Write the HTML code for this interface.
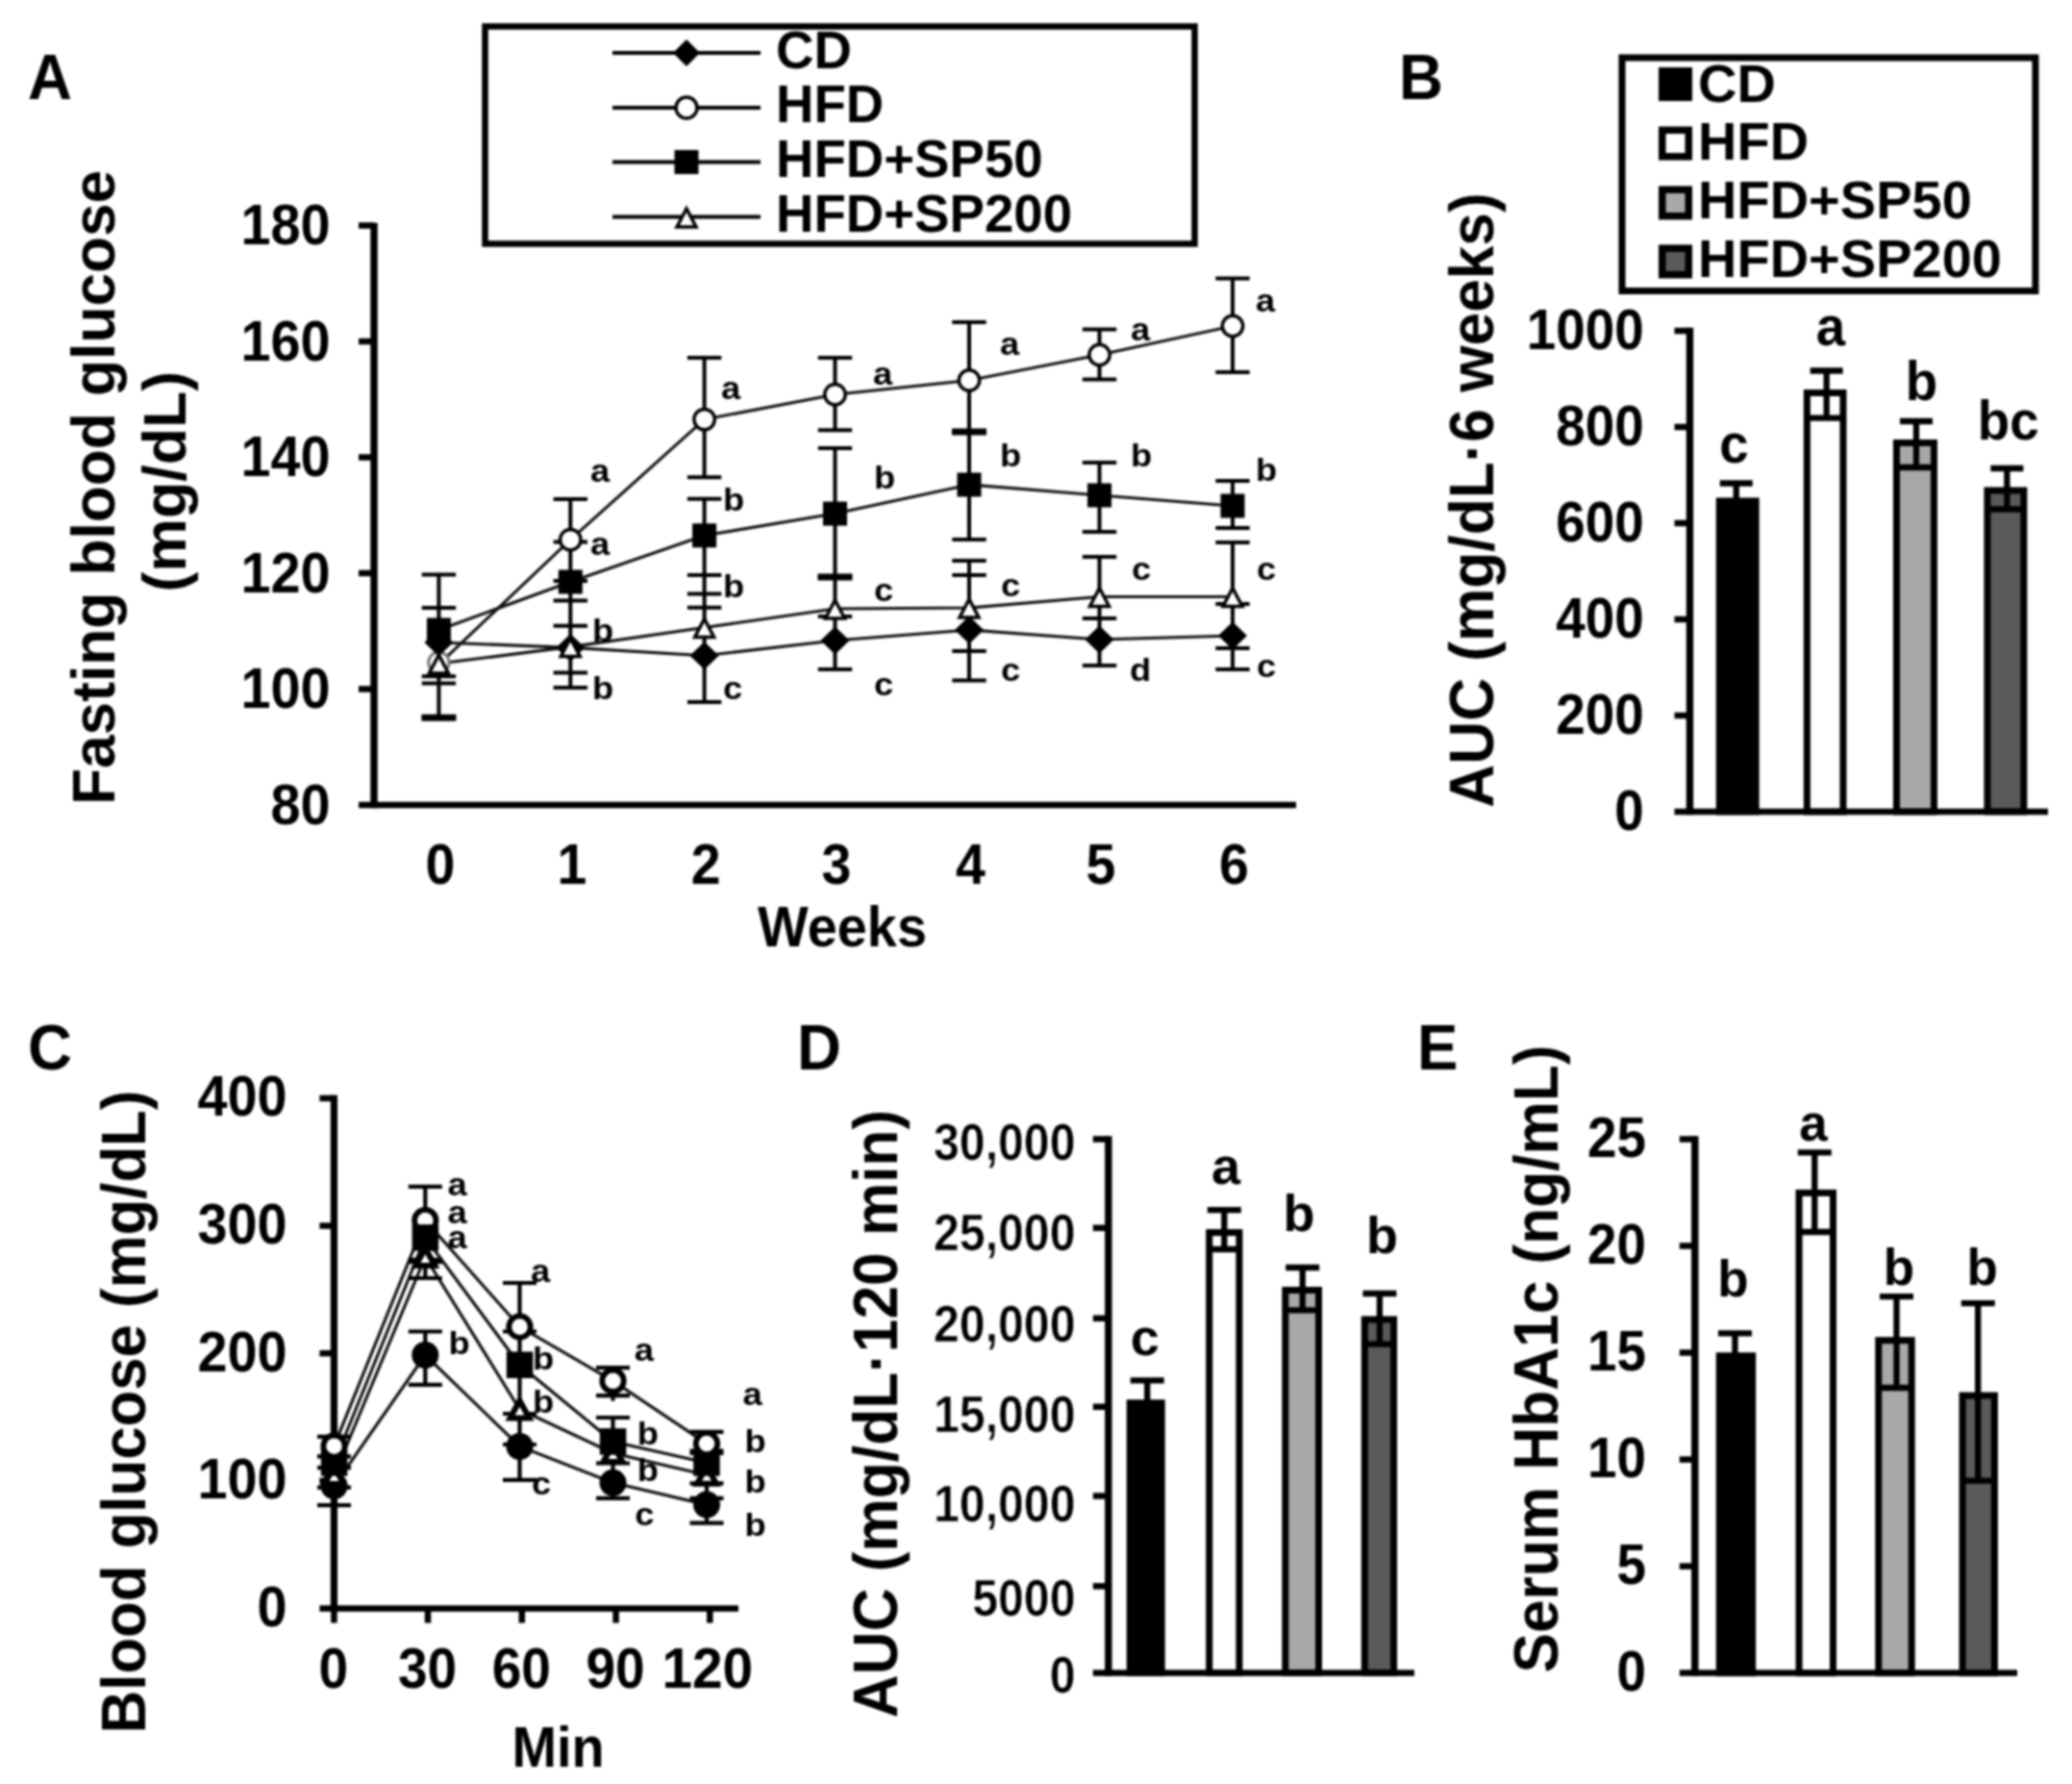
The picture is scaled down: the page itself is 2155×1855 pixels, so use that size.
<!DOCTYPE html>
<html lang="en">
<head>
<meta charset="utf-8">
<title>Figure</title>
<style>
html,body{margin:0;padding:0;background:#fff;}
body{width:2155px;height:1855px;overflow:hidden;}
svg{display:block;font-family:"Liberation Sans", sans-serif;fill:#000;}
</style>
</head>
<body>
<svg width="2155" height="1855" viewBox="0 0 2155 1855">
<defs><filter id="soft" x="0" y="0" width="2155" height="1855" filterUnits="userSpaceOnUse" color-interpolation-filters="sRGB"><feGaussianBlur stdDeviation="0.8"/></filter></defs>
<g filter="url(#soft)">
<rect x="0" y="0" width="2155" height="1855" fill="#fff"/>
<text transform="translate(29.0 102.5) scale(0.95 1)" font-size="67" font-weight="bold" text-anchor="start" >A</text>
<text transform="translate(118.5 506.9) rotate(-90) scale(0.98 1)" font-size="63.5" font-weight="bold" text-anchor="middle" >Fasting blood glucose</text>
<text transform="translate(192.5 500.7) rotate(-90) scale(0.987 1)" font-size="63.5" font-weight="bold" text-anchor="middle" >(mg/dL)</text>
<line x1="389.0" y1="231.8" x2="389.0" y2="840.2" stroke="#000" stroke-width="7.4" stroke-linecap="butt"/>
<line x1="373.0" y1="837.0" x2="1348.0" y2="837.0" stroke="#000" stroke-width="6.5" stroke-linecap="butt"/>
<line x1="373.0" y1="716.5" x2="389.0" y2="716.5" stroke="#000" stroke-width="6.5" stroke-linecap="butt"/>
<line x1="373.0" y1="596.0" x2="389.0" y2="596.0" stroke="#000" stroke-width="6.5" stroke-linecap="butt"/>
<line x1="373.0" y1="475.5" x2="389.0" y2="475.5" stroke="#000" stroke-width="6.5" stroke-linecap="butt"/>
<line x1="373.0" y1="355.0" x2="389.0" y2="355.0" stroke="#000" stroke-width="6.5" stroke-linecap="butt"/>
<line x1="373.0" y1="234.5" x2="389.0" y2="234.5" stroke="#000" stroke-width="6.5" stroke-linecap="butt"/>
<text transform="translate(343.5 856.8) scale(0.93 1)" font-size="60" font-weight="bold" text-anchor="end" >80</text>
<text transform="translate(343.5 736.3) scale(0.93 1)" font-size="60" font-weight="bold" text-anchor="end" >100</text>
<text transform="translate(343.5 615.8) scale(0.93 1)" font-size="60" font-weight="bold" text-anchor="end" >120</text>
<text transform="translate(343.5 495.3) scale(0.93 1)" font-size="60" font-weight="bold" text-anchor="end" >140</text>
<text transform="translate(343.5 374.8) scale(0.93 1)" font-size="60" font-weight="bold" text-anchor="end" >160</text>
<text transform="translate(343.5 254.3) scale(0.93 1)" font-size="60" font-weight="bold" text-anchor="end" >180</text>
<text transform="translate(457.9 919.3) scale(0.94 1)" font-size="59" font-weight="bold" text-anchor="middle" >0</text>
<text transform="translate(594.8 919.3) scale(0.94 1)" font-size="59" font-weight="bold" text-anchor="middle" >1</text>
<text transform="translate(734.1 919.3) scale(0.94 1)" font-size="59" font-weight="bold" text-anchor="middle" >2</text>
<text transform="translate(870.0 919.3) scale(0.94 1)" font-size="59" font-weight="bold" text-anchor="middle" >3</text>
<text transform="translate(1009.5 919.3) scale(0.94 1)" font-size="59" font-weight="bold" text-anchor="middle" >4</text>
<text transform="translate(1145.0 919.3) scale(0.94 1)" font-size="59" font-weight="bold" text-anchor="middle" >5</text>
<text transform="translate(1283.5 919.3) scale(0.94 1)" font-size="59" font-weight="bold" text-anchor="middle" >6</text>
<text transform="translate(876.0 983.8) scale(0.955 1)" font-size="58.5" font-weight="bold" text-anchor="middle" >Weeks</text>
<rect x="504.5" y="27.5" width="738.0" height="226.0" fill="#fff" stroke="#000" stroke-width="6.5"/>
<line x1="637.0" y1="55.0" x2="791.0" y2="55.0" stroke="#000" stroke-width="4.2" stroke-linecap="butt"/>
<line x1="637.0" y1="112.0" x2="791.0" y2="112.0" stroke="#000" stroke-width="4.2" stroke-linecap="butt"/>
<line x1="637.0" y1="168.5" x2="791.0" y2="168.5" stroke="#000" stroke-width="4.2" stroke-linecap="butt"/>
<line x1="637.0" y1="225.5" x2="791.0" y2="225.5" stroke="#000" stroke-width="4.2" stroke-linecap="butt"/>
<polygon points="700.0,55.0 714.0,41.0 728.0,55.0 714.0,69.0" fill="#000"/>
<circle cx="714.0" cy="112.0" r="11" fill="#fff" stroke="#000" stroke-width="3.5"/>
<rect x="701.5" y="156.0" width="25.0" height="25.0" fill="#000"/>
<polygon points="704.0,236.0 714.0,217.0 724.0,236.0" fill="#fff" stroke="#000" stroke-width="3.5" stroke-linejoin="miter"/>
<text transform="translate(807.0 71.0) scale(0.984 1)" font-size="55.5" font-weight="bold" text-anchor="start" >CD</text>
<text transform="translate(807.0 126.5) scale(0.984 1)" font-size="55.5" font-weight="bold" text-anchor="start" >HFD</text>
<text transform="translate(807.0 184.0) scale(0.984 1)" font-size="55.5" font-weight="bold" text-anchor="start" >HFD+SP50</text>
<text transform="translate(807.0 241.0) scale(0.984 1)" font-size="55.5" font-weight="bold" text-anchor="start" >HFD+SP200</text>
<polyline points="456.4,668.0 593.3,673.4 732.6,681.7 868.5,666.0 1008.0,655.0 1143.5,665.0 1282.0,661.0" fill="none" stroke="#111" stroke-width="3.1"/>
<polyline points="456.4,690.8 593.3,561.2 732.6,436.1 868.5,410.2 1008.0,395.5 1143.5,369.0 1282.0,339.0" fill="none" stroke="#111" stroke-width="3.1"/>
<polyline points="456.4,655.0 593.3,605.0 732.6,556.8 868.5,534.1 1008.0,504.0 1143.5,515.0 1282.0,526.0" fill="none" stroke="#111" stroke-width="3.1"/>
<polyline points="456.4,690.0 593.3,672.6 732.6,652.5 868.5,633.0 1008.0,632.0 1143.5,620.5 1282.0,620.5" fill="none" stroke="#111" stroke-width="3.1"/>
<line x1="456.4" y1="597.6" x2="456.4" y2="746.3" stroke="#000" stroke-width="4.0" stroke-linecap="butt"/>
<line x1="438.7" y1="597.6" x2="474.1" y2="597.6" stroke="#000" stroke-width="4.0" stroke-linecap="butt"/>
<line x1="438.7" y1="632.0" x2="474.1" y2="632.0" stroke="#000" stroke-width="4.0" stroke-linecap="butt"/>
<line x1="438.7" y1="703.3" x2="474.1" y2="703.3" stroke="#000" stroke-width="4.0" stroke-linecap="butt"/>
<line x1="438.7" y1="710.6" x2="474.1" y2="710.6" stroke="#000" stroke-width="4.0" stroke-linecap="butt"/>
<line x1="438.4" y1="746.3" x2="474.4" y2="746.3" stroke="#000" stroke-width="7" stroke-linecap="butt"/>
<line x1="593.3" y1="519.0" x2="593.3" y2="715.0" stroke="#000" stroke-width="4.0" stroke-linecap="butt"/>
<line x1="575.6" y1="519.0" x2="611.0" y2="519.0" stroke="#000" stroke-width="4.0" stroke-linecap="butt"/>
<line x1="575.6" y1="563.4" x2="611.0" y2="563.4" stroke="#000" stroke-width="4.0" stroke-linecap="butt"/>
<line x1="575.6" y1="604.0" x2="611.0" y2="604.0" stroke="#000" stroke-width="4.0" stroke-linecap="butt"/>
<line x1="575.6" y1="624.6" x2="611.0" y2="624.6" stroke="#000" stroke-width="4.0" stroke-linecap="butt"/>
<line x1="575.6" y1="650.8" x2="611.0" y2="650.8" stroke="#000" stroke-width="4.0" stroke-linecap="butt"/>
<line x1="575.6" y1="699.6" x2="611.0" y2="699.6" stroke="#000" stroke-width="4.0" stroke-linecap="butt"/>
<line x1="575.6" y1="715.0" x2="611.0" y2="715.0" stroke="#000" stroke-width="4.0" stroke-linecap="butt"/>
<line x1="732.6" y1="371.9" x2="732.6" y2="496.3" stroke="#000" stroke-width="4.0" stroke-linecap="butt"/>
<line x1="732.6" y1="518.7" x2="732.6" y2="730.0" stroke="#000" stroke-width="4.0" stroke-linecap="butt"/>
<line x1="714.9" y1="371.9" x2="750.3" y2="371.9" stroke="#000" stroke-width="4.0" stroke-linecap="butt"/>
<line x1="714.9" y1="496.3" x2="750.3" y2="496.3" stroke="#000" stroke-width="4.0" stroke-linecap="butt"/>
<line x1="714.9" y1="518.7" x2="750.3" y2="518.7" stroke="#000" stroke-width="4.0" stroke-linecap="butt"/>
<line x1="714.9" y1="598.0" x2="750.3" y2="598.0" stroke="#000" stroke-width="4.0" stroke-linecap="butt"/>
<line x1="714.9" y1="617.4" x2="750.3" y2="617.4" stroke="#000" stroke-width="4.0" stroke-linecap="butt"/>
<line x1="714.9" y1="631.8" x2="750.3" y2="631.8" stroke="#000" stroke-width="4.0" stroke-linecap="butt"/>
<line x1="714.9" y1="730.0" x2="750.3" y2="730.0" stroke="#000" stroke-width="4.0" stroke-linecap="butt"/>
<line x1="868.5" y1="371.9" x2="868.5" y2="447.2" stroke="#000" stroke-width="4.0" stroke-linecap="butt"/>
<line x1="868.5" y1="466.0" x2="868.5" y2="696.0" stroke="#000" stroke-width="4.0" stroke-linecap="butt"/>
<line x1="850.8" y1="371.9" x2="886.2" y2="371.9" stroke="#000" stroke-width="4.0" stroke-linecap="butt"/>
<line x1="850.8" y1="447.2" x2="886.2" y2="447.2" stroke="#000" stroke-width="4.0" stroke-linecap="butt"/>
<line x1="850.8" y1="466.0" x2="886.2" y2="466.0" stroke="#000" stroke-width="4.0" stroke-linecap="butt"/>
<line x1="850.8" y1="641.0" x2="886.2" y2="641.0" stroke="#000" stroke-width="4.0" stroke-linecap="butt"/>
<line x1="850.8" y1="696.0" x2="886.2" y2="696.0" stroke="#000" stroke-width="4.0" stroke-linecap="butt"/>
<line x1="850.5" y1="600.0" x2="886.5" y2="600.0" stroke="#000" stroke-width="7" stroke-linecap="butt"/>
<line x1="1008.0" y1="335.0" x2="1008.0" y2="561.0" stroke="#000" stroke-width="4.0" stroke-linecap="butt"/>
<line x1="1008.0" y1="583.0" x2="1008.0" y2="707.5" stroke="#000" stroke-width="4.0" stroke-linecap="butt"/>
<line x1="990.3" y1="335.0" x2="1025.7" y2="335.0" stroke="#000" stroke-width="4.0" stroke-linecap="butt"/>
<line x1="990.3" y1="561.0" x2="1025.7" y2="561.0" stroke="#000" stroke-width="4.0" stroke-linecap="butt"/>
<line x1="990.3" y1="583.0" x2="1025.7" y2="583.0" stroke="#000" stroke-width="4.0" stroke-linecap="butt"/>
<line x1="990.3" y1="598.0" x2="1025.7" y2="598.0" stroke="#000" stroke-width="4.0" stroke-linecap="butt"/>
<line x1="990.3" y1="677.0" x2="1025.7" y2="677.0" stroke="#000" stroke-width="4.0" stroke-linecap="butt"/>
<line x1="990.3" y1="707.5" x2="1025.7" y2="707.5" stroke="#000" stroke-width="4.0" stroke-linecap="butt"/>
<line x1="990.0" y1="449.0" x2="1026.0" y2="449.0" stroke="#000" stroke-width="7" stroke-linecap="butt"/>
<line x1="1143.5" y1="342.5" x2="1143.5" y2="394.5" stroke="#000" stroke-width="4.0" stroke-linecap="butt"/>
<line x1="1143.5" y1="481.0" x2="1143.5" y2="553.0" stroke="#000" stroke-width="4.0" stroke-linecap="butt"/>
<line x1="1143.5" y1="579.0" x2="1143.5" y2="692.0" stroke="#000" stroke-width="4.0" stroke-linecap="butt"/>
<line x1="1125.8" y1="342.5" x2="1161.2" y2="342.5" stroke="#000" stroke-width="4.0" stroke-linecap="butt"/>
<line x1="1125.8" y1="394.5" x2="1161.2" y2="394.5" stroke="#000" stroke-width="4.0" stroke-linecap="butt"/>
<line x1="1125.8" y1="481.0" x2="1161.2" y2="481.0" stroke="#000" stroke-width="4.0" stroke-linecap="butt"/>
<line x1="1125.8" y1="553.0" x2="1161.2" y2="553.0" stroke="#000" stroke-width="4.0" stroke-linecap="butt"/>
<line x1="1125.8" y1="579.0" x2="1161.2" y2="579.0" stroke="#000" stroke-width="4.0" stroke-linecap="butt"/>
<line x1="1125.8" y1="643.0" x2="1161.2" y2="643.0" stroke="#000" stroke-width="4.0" stroke-linecap="butt"/>
<line x1="1125.8" y1="692.0" x2="1161.2" y2="692.0" stroke="#000" stroke-width="4.0" stroke-linecap="butt"/>
<line x1="1282.0" y1="289.5" x2="1282.0" y2="387.0" stroke="#000" stroke-width="4.0" stroke-linecap="butt"/>
<line x1="1282.0" y1="500.0" x2="1282.0" y2="549.0" stroke="#000" stroke-width="4.0" stroke-linecap="butt"/>
<line x1="1282.0" y1="564.0" x2="1282.0" y2="696.0" stroke="#000" stroke-width="4.0" stroke-linecap="butt"/>
<line x1="1264.3" y1="289.5" x2="1299.7" y2="289.5" stroke="#000" stroke-width="4.0" stroke-linecap="butt"/>
<line x1="1264.3" y1="387.0" x2="1299.7" y2="387.0" stroke="#000" stroke-width="4.0" stroke-linecap="butt"/>
<line x1="1264.3" y1="500.0" x2="1299.7" y2="500.0" stroke="#000" stroke-width="4.0" stroke-linecap="butt"/>
<line x1="1264.3" y1="549.0" x2="1299.7" y2="549.0" stroke="#000" stroke-width="4.0" stroke-linecap="butt"/>
<line x1="1264.3" y1="564.0" x2="1299.7" y2="564.0" stroke="#000" stroke-width="4.0" stroke-linecap="butt"/>
<line x1="1264.3" y1="628.0" x2="1299.7" y2="628.0" stroke="#000" stroke-width="4.0" stroke-linecap="butt"/>
<line x1="1264.3" y1="674.0" x2="1299.7" y2="674.0" stroke="#000" stroke-width="4.0" stroke-linecap="butt"/>
<line x1="1264.3" y1="696.0" x2="1299.7" y2="696.0" stroke="#000" stroke-width="4.0" stroke-linecap="butt"/>
<circle cx="456.4" cy="688.8" r="10.7" fill="#fff" stroke="#777" stroke-width="3"/>
<polygon points="441.4,668.0 456.4,653.5 471.4,668.0 456.4,682.5" fill="#000"/>
<polygon points="446.4,700.0 456.4,681.0 466.4,700.0" fill="#fff" stroke="#000" stroke-width="3.5" stroke-linejoin="miter"/>
<rect x="443.9" y="642.5" width="25.0" height="25.0" fill="#000"/>
<polygon points="578.3,673.4 593.3,658.9 608.3,673.4 593.3,687.9" fill="#000"/>
<polygon points="583.3,682.6 593.3,663.6 603.3,682.6" fill="#fff" stroke="#000" stroke-width="3.5" stroke-linejoin="miter"/>
<rect x="580.8" y="592.5" width="25.0" height="25.0" fill="#000"/>
<circle cx="593.3" cy="561.2" r="10.7" fill="#fff" stroke="#000" stroke-width="3.5"/>
<polygon points="717.6,681.7 732.6,667.2 747.6,681.7 732.6,696.2" fill="#000"/>
<polygon points="722.6,662.5 732.6,643.5 742.6,662.5" fill="#fff" stroke="#000" stroke-width="3.5" stroke-linejoin="miter"/>
<rect x="720.1" y="544.3" width="25.0" height="25.0" fill="#000"/>
<circle cx="732.6" cy="436.1" r="10.7" fill="#fff" stroke="#000" stroke-width="3.5"/>
<polygon points="853.5,666.0 868.5,651.5 883.5,666.0 868.5,680.5" fill="#000"/>
<polygon points="858.5,643.0 868.5,624.0 878.5,643.0" fill="#fff" stroke="#000" stroke-width="3.5" stroke-linejoin="miter"/>
<rect x="856.0" y="521.6" width="25.0" height="25.0" fill="#000"/>
<circle cx="868.5" cy="410.2" r="10.7" fill="#fff" stroke="#000" stroke-width="3.5"/>
<polygon points="993.0,655.0 1008.0,640.5 1023.0,655.0 1008.0,669.5" fill="#000"/>
<polygon points="998.0,642.0 1008.0,623.0 1018.0,642.0" fill="#fff" stroke="#000" stroke-width="3.5" stroke-linejoin="miter"/>
<rect x="995.5" y="491.5" width="25.0" height="25.0" fill="#000"/>
<circle cx="1008.0" cy="395.5" r="10.7" fill="#fff" stroke="#000" stroke-width="3.5"/>
<polygon points="1128.5,665.0 1143.5,650.5 1158.5,665.0 1143.5,679.5" fill="#000"/>
<polygon points="1133.5,630.5 1143.5,611.5 1153.5,630.5" fill="#fff" stroke="#000" stroke-width="3.5" stroke-linejoin="miter"/>
<rect x="1131.0" y="502.5" width="25.0" height="25.0" fill="#000"/>
<circle cx="1143.5" cy="369.0" r="10.7" fill="#fff" stroke="#000" stroke-width="3.5"/>
<polygon points="1267.0,661.0 1282.0,646.5 1297.0,661.0 1282.0,675.5" fill="#000"/>
<polygon points="1272.0,630.5 1282.0,611.5 1292.0,630.5" fill="#fff" stroke="#000" stroke-width="3.5" stroke-linejoin="miter"/>
<rect x="1269.5" y="513.5" width="25.0" height="25.0" fill="#000"/>
<circle cx="1282.0" cy="339.0" r="10.7" fill="#fff" stroke="#000" stroke-width="3.5"/>
<text transform="translate(614.0 501.0) scale(1.1 1)" font-size="33" font-weight="bold" text-anchor="start" >a</text>
<text transform="translate(614.0 577.0) scale(1.1 1)" font-size="33" font-weight="bold" text-anchor="start" >a</text>
<text transform="translate(616.0 667.0) scale(1.1 1)" font-size="33" font-weight="bold" text-anchor="start" >b</text>
<text transform="translate(616.0 727.0) scale(1.1 1)" font-size="33" font-weight="bold" text-anchor="start" >b</text>
<text transform="translate(750.0 414.5) scale(1.1 1)" font-size="33" font-weight="bold" text-anchor="start" >a</text>
<text transform="translate(752.0 531.0) scale(1.1 1)" font-size="33" font-weight="bold" text-anchor="start" >b</text>
<text transform="translate(752.0 621.0) scale(1.1 1)" font-size="33" font-weight="bold" text-anchor="start" >b</text>
<text transform="translate(752.0 727.0) scale(1.1 1)" font-size="33" font-weight="bold" text-anchor="start" >c</text>
<text transform="translate(908.0 400.0) scale(1.1 1)" font-size="33" font-weight="bold" text-anchor="start" >a</text>
<text transform="translate(909.0 508.0) scale(1.1 1)" font-size="33" font-weight="bold" text-anchor="start" >b</text>
<text transform="translate(909.0 625.0) scale(1.1 1)" font-size="33" font-weight="bold" text-anchor="start" >c</text>
<text transform="translate(909.0 722.5) scale(1.1 1)" font-size="33" font-weight="bold" text-anchor="start" >c</text>
<text transform="translate(1040.0 369.0) scale(1.1 1)" font-size="33" font-weight="bold" text-anchor="start" >a</text>
<text transform="translate(1040.0 485.0) scale(1.1 1)" font-size="33" font-weight="bold" text-anchor="start" >b</text>
<text transform="translate(1041.0 620.0) scale(1.1 1)" font-size="33" font-weight="bold" text-anchor="start" >c</text>
<text transform="translate(1041.0 708.0) scale(1.1 1)" font-size="33" font-weight="bold" text-anchor="start" >c</text>
<text transform="translate(1176.0 354.0) scale(1.1 1)" font-size="33" font-weight="bold" text-anchor="start" >a</text>
<text transform="translate(1176.0 485.0) scale(1.1 1)" font-size="33" font-weight="bold" text-anchor="start" >b</text>
<text transform="translate(1177.0 602.5) scale(1.1 1)" font-size="33" font-weight="bold" text-anchor="start" >c</text>
<text transform="translate(1175.0 708.0) scale(1.1 1)" font-size="33" font-weight="bold" text-anchor="start" >d</text>
<text transform="translate(1306.0 324.0) scale(1.1 1)" font-size="33" font-weight="bold" text-anchor="start" >a</text>
<text transform="translate(1306.0 500.0) scale(1.1 1)" font-size="33" font-weight="bold" text-anchor="start" >b</text>
<text transform="translate(1307.0 602.5) scale(1.1 1)" font-size="33" font-weight="bold" text-anchor="start" >c</text>
<text transform="translate(1307.0 704.0) scale(1.1 1)" font-size="33" font-weight="bold" text-anchor="start" >c</text>
<text transform="translate(1455.0 102.5) scale(0.95 1)" font-size="67" font-weight="bold" text-anchor="start" >B</text>
<text transform="translate(1553.0 520.0) rotate(-90) scale(0.957 1)" font-size="65" font-weight="bold" text-anchor="middle" >AUC (mg/dL·6 weeks)</text>
<rect x="1788.3" y="521.0" width="37.9" height="323.0" fill="#000" stroke="#000" stroke-width="7"/>
<line x1="1805.8" y1="502.5" x2="1805.8" y2="519.5" stroke="#000" stroke-width="6.3" stroke-linecap="butt"/>
<line x1="1788.8" y1="502.5" x2="1822.8" y2="502.5" stroke="#000" stroke-width="6.3" stroke-linecap="butt"/>
<rect x="1879.4" y="408.5" width="37.6" height="435.5" fill="#fff" stroke="#000" stroke-width="7"/>
<line x1="1899.7" y1="385.5" x2="1899.7" y2="434.6" stroke="#000" stroke-width="6.3" stroke-linecap="butt"/>
<line x1="1877.9" y1="434.6" x2="1918.5" y2="434.6" stroke="#000" stroke-width="6.3" stroke-linecap="butt"/>
<line x1="1882.7" y1="385.5" x2="1916.7" y2="385.5" stroke="#000" stroke-width="6.3" stroke-linecap="butt"/>
<rect x="1972.5" y="460.5" width="39.0" height="383.5" fill="#a8a8a8" stroke="#000" stroke-width="7"/>
<line x1="1993.0" y1="438.0" x2="1993.0" y2="486.0" stroke="#000" stroke-width="6.3" stroke-linecap="butt"/>
<line x1="1971.0" y1="486.0" x2="2013.0" y2="486.0" stroke="#000" stroke-width="6.3" stroke-linecap="butt"/>
<line x1="1976.0" y1="438.0" x2="2010.0" y2="438.0" stroke="#000" stroke-width="6.3" stroke-linecap="butt"/>
<rect x="2067.0" y="510.0" width="37.9" height="334.0" fill="#5a5a5a" stroke="#000" stroke-width="7"/>
<line x1="2087.4" y1="487.0" x2="2087.4" y2="529.5" stroke="#000" stroke-width="6.3" stroke-linecap="butt"/>
<line x1="2065.5" y1="529.5" x2="2106.4" y2="529.5" stroke="#000" stroke-width="6.3" stroke-linecap="butt"/>
<line x1="2070.4" y1="487.0" x2="2104.4" y2="487.0" stroke="#000" stroke-width="6.3" stroke-linecap="butt"/>
<line x1="1757.5" y1="340.8" x2="1757.5" y2="847.2" stroke="#000" stroke-width="7.4" stroke-linecap="butt"/>
<line x1="1741.5" y1="844.0" x2="2130.0" y2="844.0" stroke="#000" stroke-width="6.5" stroke-linecap="butt"/>
<line x1="1741.5" y1="744.0" x2="1757.5" y2="744.0" stroke="#000" stroke-width="6.5" stroke-linecap="butt"/>
<line x1="1741.5" y1="644.0" x2="1757.5" y2="644.0" stroke="#000" stroke-width="6.5" stroke-linecap="butt"/>
<line x1="1741.5" y1="544.0" x2="1757.5" y2="544.0" stroke="#000" stroke-width="6.5" stroke-linecap="butt"/>
<line x1="1741.5" y1="444.0" x2="1757.5" y2="444.0" stroke="#000" stroke-width="6.5" stroke-linecap="butt"/>
<line x1="1741.5" y1="344.0" x2="1757.5" y2="344.0" stroke="#000" stroke-width="6.5" stroke-linecap="butt"/>
<text transform="translate(1709.8 862.5) scale(0.93 1)" font-size="59" font-weight="bold" text-anchor="end" >0</text>
<text transform="translate(1709.8 762.5) scale(0.93 1)" font-size="59" font-weight="bold" text-anchor="end" >200</text>
<text transform="translate(1709.8 662.5) scale(0.93 1)" font-size="59" font-weight="bold" text-anchor="end" >400</text>
<text transform="translate(1709.8 562.5) scale(0.93 1)" font-size="59" font-weight="bold" text-anchor="end" >600</text>
<text transform="translate(1709.8 462.5) scale(0.93 1)" font-size="59" font-weight="bold" text-anchor="end" >800</text>
<text transform="translate(1709.8 362.5) scale(0.93 1)" font-size="59" font-weight="bold" text-anchor="end" >1000</text>
<rect x="1687.0" y="60.0" width="430.0" height="242.5" fill="#fff" stroke="#000" stroke-width="7"/>
<rect x="1728.8" y="73.8" width="27.5" height="27.5" fill="#000" stroke="#000" stroke-width="7.5"/>
<rect x="1728.8" y="135.3" width="27.5" height="27.5" fill="#fff" stroke="#000" stroke-width="7.5"/>
<rect x="1728.8" y="197.2" width="27.5" height="27.5" fill="#a8a8a8" stroke="#000" stroke-width="7.5"/>
<rect x="1728.8" y="258.2" width="27.5" height="27.5" fill="#5a5a5a" stroke="#000" stroke-width="7.5"/>
<text transform="translate(1766.0 105.5) scale(1.0 1)" font-size="56" font-weight="bold" text-anchor="start" >CD</text>
<text transform="translate(1766.0 165.5) scale(1.0 1)" font-size="56" font-weight="bold" text-anchor="start" >HFD</text>
<text transform="translate(1766.0 226.5) scale(1.0 1)" font-size="56" font-weight="bold" text-anchor="start" >HFD+SP50</text>
<text transform="translate(1766.0 287.5) scale(1.0 1)" font-size="56" font-weight="bold" text-anchor="start" >HFD+SP200</text>
<text transform="translate(1803.5 481.4) scale(0.97 1)" font-size="56.5" font-weight="bold" text-anchor="middle" >c</text>
<text transform="translate(1904.0 359.4) scale(0.97 1)" font-size="56.5" font-weight="bold" text-anchor="middle" >a</text>
<text transform="translate(1998.4 416.3) scale(0.97 1)" font-size="56.5" font-weight="bold" text-anchor="middle" >b</text>
<text transform="translate(2088.7 456.6) scale(0.97 1)" font-size="56.5" font-weight="bold" text-anchor="middle" >bc</text>
<text transform="translate(29.0 1111.5) scale(0.95 1)" font-size="67" font-weight="bold" text-anchor="start" >C</text>
<text transform="translate(150.5 1468.0) rotate(-90) scale(0.95 1)" font-size="65" font-weight="bold" text-anchor="middle" >Blood glucose (mg/dL)</text>
<line x1="347.4" y1="1138.8" x2="347.4" y2="1675.8" stroke="#000" stroke-width="7.2" stroke-linecap="butt"/>
<line x1="332.4" y1="1672.5" x2="768.0" y2="1672.5" stroke="#000" stroke-width="6.5" stroke-linecap="butt"/>
<line x1="332.4" y1="1539.9" x2="347.4" y2="1539.9" stroke="#000" stroke-width="6.5" stroke-linecap="butt"/>
<line x1="332.4" y1="1407.2" x2="347.4" y2="1407.2" stroke="#000" stroke-width="6.5" stroke-linecap="butt"/>
<line x1="332.4" y1="1274.6" x2="347.4" y2="1274.6" stroke="#000" stroke-width="6.5" stroke-linecap="butt"/>
<line x1="332.4" y1="1142.0" x2="347.4" y2="1142.0" stroke="#000" stroke-width="6.5" stroke-linecap="butt"/>
<text transform="translate(298.5 1690.8) scale(0.93 1)" font-size="60" font-weight="bold" text-anchor="end" >0</text>
<text transform="translate(298.5 1558.2) scale(0.93 1)" font-size="60" font-weight="bold" text-anchor="end" >100</text>
<text transform="translate(298.5 1425.5) scale(0.93 1)" font-size="60" font-weight="bold" text-anchor="end" >200</text>
<text transform="translate(298.5 1292.9) scale(0.93 1)" font-size="60" font-weight="bold" text-anchor="end" >300</text>
<text transform="translate(298.5 1160.3) scale(0.93 1)" font-size="60" font-weight="bold" text-anchor="end" >400</text>
<line x1="347.4" y1="1672.5" x2="347.4" y2="1687.5" stroke="#000" stroke-width="6.5" stroke-linecap="butt"/>
<line x1="445.0" y1="1672.5" x2="445.0" y2="1687.5" stroke="#000" stroke-width="6.5" stroke-linecap="butt"/>
<line x1="542.8" y1="1672.5" x2="542.8" y2="1687.5" stroke="#000" stroke-width="6.5" stroke-linecap="butt"/>
<line x1="640.6" y1="1672.5" x2="640.6" y2="1687.5" stroke="#000" stroke-width="6.5" stroke-linecap="butt"/>
<line x1="738.3" y1="1672.5" x2="738.3" y2="1687.5" stroke="#000" stroke-width="6.5" stroke-linecap="butt"/>
<text transform="translate(346.9 1754.8) scale(0.925 1)" font-size="59.5" font-weight="bold" text-anchor="middle" >0</text>
<text transform="translate(444.5 1754.8) scale(0.925 1)" font-size="59.5" font-weight="bold" text-anchor="middle" >30</text>
<text transform="translate(542.3 1754.8) scale(0.925 1)" font-size="59.5" font-weight="bold" text-anchor="middle" >60</text>
<text transform="translate(640.1 1754.8) scale(0.925 1)" font-size="59.5" font-weight="bold" text-anchor="middle" >90</text>
<text transform="translate(735.8 1754.8) scale(0.955 1)" font-size="59.5" font-weight="bold" text-anchor="middle" >120</text>
<text transform="translate(580.5 1837.0) scale(0.955 1)" font-size="58.5" font-weight="bold" text-anchor="middle" >Min</text>
<polyline points="347.5,1545.0 442.3,1409.0 540.5,1504.0 637.5,1541.8 735.0,1564.6" fill="none" stroke="#111" stroke-width="3.2"/>
<polyline points="347.5,1503.7 442.3,1269.0 540.5,1379.6 637.5,1435.8 735.0,1501.1" fill="none" stroke="#111" stroke-width="3.2"/>
<polyline points="347.5,1521.0 442.3,1287.0 540.5,1419.3 637.5,1499.0 735.0,1521.0" fill="none" stroke="#111" stroke-width="3.2"/>
<polyline points="347.5,1534.0 442.3,1307.0 540.5,1465.5 637.5,1511.0 735.0,1533.8" fill="none" stroke="#111" stroke-width="3.2"/>
<line x1="347.5" y1="1493.8" x2="347.5" y2="1565.1" stroke="#000" stroke-width="4.2" stroke-linecap="butt"/>
<line x1="330.0" y1="1493.8" x2="365.0" y2="1493.8" stroke="#000" stroke-width="4.2" stroke-linecap="butt"/>
<line x1="330.0" y1="1514.4" x2="365.0" y2="1514.4" stroke="#000" stroke-width="4.2" stroke-linecap="butt"/>
<line x1="330.0" y1="1526.1" x2="365.0" y2="1526.1" stroke="#000" stroke-width="4.2" stroke-linecap="butt"/>
<line x1="330.0" y1="1546.7" x2="365.0" y2="1546.7" stroke="#000" stroke-width="4.2" stroke-linecap="butt"/>
<line x1="330.0" y1="1565.1" x2="365.0" y2="1565.1" stroke="#000" stroke-width="4.2" stroke-linecap="butt"/>
<line x1="442.3" y1="1233.8" x2="442.3" y2="1329.0" stroke="#000" stroke-width="4.2" stroke-linecap="butt"/>
<line x1="442.3" y1="1384.5" x2="442.3" y2="1439.8" stroke="#000" stroke-width="4.2" stroke-linecap="butt"/>
<line x1="424.8" y1="1233.8" x2="459.8" y2="1233.8" stroke="#000" stroke-width="4.2" stroke-linecap="butt"/>
<line x1="424.8" y1="1329.0" x2="459.8" y2="1329.0" stroke="#000" stroke-width="4.2" stroke-linecap="butt"/>
<line x1="424.8" y1="1384.5" x2="459.8" y2="1384.5" stroke="#000" stroke-width="4.2" stroke-linecap="butt"/>
<line x1="424.8" y1="1439.8" x2="459.8" y2="1439.8" stroke="#000" stroke-width="4.2" stroke-linecap="butt"/>
<line x1="424.8" y1="1311.0" x2="459.8" y2="1311.0" stroke="#000" stroke-width="6.5" stroke-linecap="butt"/>
<line x1="540.5" y1="1334.0" x2="540.5" y2="1538.8" stroke="#000" stroke-width="4.2" stroke-linecap="butt"/>
<line x1="523.0" y1="1334.0" x2="558.0" y2="1334.0" stroke="#000" stroke-width="4.2" stroke-linecap="butt"/>
<line x1="523.0" y1="1384.5" x2="558.0" y2="1384.5" stroke="#000" stroke-width="4.2" stroke-linecap="butt"/>
<line x1="523.0" y1="1470.0" x2="558.0" y2="1470.0" stroke="#000" stroke-width="4.2" stroke-linecap="butt"/>
<line x1="523.0" y1="1502.0" x2="558.0" y2="1502.0" stroke="#000" stroke-width="4.2" stroke-linecap="butt"/>
<line x1="523.0" y1="1538.8" x2="558.0" y2="1538.8" stroke="#000" stroke-width="4.2" stroke-linecap="butt"/>
<line x1="637.5" y1="1422.2" x2="637.5" y2="1456.7" stroke="#000" stroke-width="4.2" stroke-linecap="butt"/>
<line x1="637.5" y1="1474.0" x2="637.5" y2="1557.8" stroke="#000" stroke-width="4.2" stroke-linecap="butt"/>
<line x1="620.0" y1="1422.2" x2="655.0" y2="1422.2" stroke="#000" stroke-width="4.2" stroke-linecap="butt"/>
<line x1="620.0" y1="1451.2" x2="655.0" y2="1451.2" stroke="#000" stroke-width="4.2" stroke-linecap="butt"/>
<line x1="620.0" y1="1474.0" x2="655.0" y2="1474.0" stroke="#000" stroke-width="4.2" stroke-linecap="butt"/>
<line x1="620.0" y1="1521.5" x2="655.0" y2="1521.5" stroke="#000" stroke-width="4.2" stroke-linecap="butt"/>
<line x1="620.0" y1="1557.8" x2="655.0" y2="1557.8" stroke="#000" stroke-width="4.2" stroke-linecap="butt"/>
<line x1="735.0" y1="1488.8" x2="735.0" y2="1583.7" stroke="#000" stroke-width="4.2" stroke-linecap="butt"/>
<line x1="717.5" y1="1488.8" x2="752.5" y2="1488.8" stroke="#000" stroke-width="4.2" stroke-linecap="butt"/>
<line x1="717.5" y1="1542.4" x2="752.5" y2="1542.4" stroke="#000" stroke-width="4.2" stroke-linecap="butt"/>
<line x1="717.5" y1="1557.8" x2="752.5" y2="1557.8" stroke="#000" stroke-width="4.2" stroke-linecap="butt"/>
<line x1="717.5" y1="1583.7" x2="752.5" y2="1583.7" stroke="#000" stroke-width="4.2" stroke-linecap="butt"/>
<line x1="717.5" y1="1509.8" x2="752.5" y2="1509.8" stroke="#000" stroke-width="6.5" stroke-linecap="butt"/>
<circle cx="347.5" cy="1545.0" r="14" fill="#000"/>
<polygon points="337.5,1543.0 347.5,1525.0 357.5,1543.0" fill="#fff" stroke="#000" stroke-width="6" stroke-linejoin="miter"/>
<rect x="333.8" y="1507.2" width="27.5" height="27.5" fill="#000"/>
<circle cx="347.5" cy="1503.7" r="11.2" fill="#fff" stroke="#000" stroke-width="5.8"/>
<circle cx="442.3" cy="1409.0" r="14" fill="#000"/>
<polygon points="432.3,1316.0 442.3,1298.0 452.3,1316.0" fill="#fff" stroke="#000" stroke-width="6" stroke-linejoin="miter"/>
<circle cx="442.3" cy="1269.0" r="11.2" fill="#fff" stroke="#000" stroke-width="5.8"/>
<rect x="428.6" y="1273.2" width="27.5" height="27.5" fill="#000"/>
<circle cx="540.5" cy="1504.0" r="14" fill="#000"/>
<polygon points="530.5,1474.5 540.5,1456.5 550.5,1474.5" fill="#fff" stroke="#000" stroke-width="6" stroke-linejoin="miter"/>
<rect x="526.8" y="1405.5" width="27.5" height="27.5" fill="#000"/>
<circle cx="540.5" cy="1379.6" r="11.2" fill="#fff" stroke="#000" stroke-width="5.8"/>
<circle cx="637.5" cy="1541.8" r="14" fill="#000"/>
<polygon points="627.5,1520.0 637.5,1502.0 647.5,1520.0" fill="#fff" stroke="#000" stroke-width="6" stroke-linejoin="miter"/>
<rect x="623.8" y="1485.2" width="27.5" height="27.5" fill="#000"/>
<circle cx="637.5" cy="1435.8" r="11.2" fill="#fff" stroke="#000" stroke-width="5.8"/>
<circle cx="735.0" cy="1564.6" r="14" fill="#000"/>
<polygon points="725.0,1542.8 735.0,1524.8 745.0,1542.8" fill="#fff" stroke="#000" stroke-width="6" stroke-linejoin="miter"/>
<rect x="721.2" y="1507.2" width="27.5" height="27.5" fill="#000"/>
<circle cx="735.0" cy="1501.1" r="11.2" fill="#fff" stroke="#000" stroke-width="5.8"/>
<text transform="translate(465.5 1243.0) scale(1.1 1)" font-size="33" font-weight="bold" text-anchor="start" >a</text>
<text transform="translate(465.5 1271.7) scale(1.1 1)" font-size="33" font-weight="bold" text-anchor="start" >a</text>
<text transform="translate(465.5 1298.3) scale(1.1 1)" font-size="33" font-weight="bold" text-anchor="start" >a</text>
<text transform="translate(466.5 1407.6) scale(1.1 1)" font-size="33" font-weight="bold" text-anchor="start" >b</text>
<text transform="translate(552.0 1333.3) scale(1.1 1)" font-size="33" font-weight="bold" text-anchor="start" >a</text>
<text transform="translate(554.0 1424.4) scale(1.1 1)" font-size="33" font-weight="bold" text-anchor="start" >b</text>
<text transform="translate(554.0 1469.0) scale(1.1 1)" font-size="33" font-weight="bold" text-anchor="start" >b</text>
<text transform="translate(553.0 1554.0) scale(1.1 1)" font-size="33" font-weight="bold" text-anchor="start" >c</text>
<text transform="translate(659.7 1415.4) scale(1.1 1)" font-size="33" font-weight="bold" text-anchor="start" >a</text>
<text transform="translate(662.8 1502.4) scale(1.1 1)" font-size="33" font-weight="bold" text-anchor="start" >b</text>
<text transform="translate(662.8 1540.0) scale(1.1 1)" font-size="33" font-weight="bold" text-anchor="start" >b</text>
<text transform="translate(660.3 1586.2) scale(1.1 1)" font-size="33" font-weight="bold" text-anchor="start" >c</text>
<text transform="translate(772.5 1461.0) scale(1.1 1)" font-size="33" font-weight="bold" text-anchor="start" >a</text>
<text transform="translate(774.4 1509.8) scale(1.1 1)" font-size="33" font-weight="bold" text-anchor="start" >b</text>
<text transform="translate(774.4 1551.7) scale(1.1 1)" font-size="33" font-weight="bold" text-anchor="start" >b</text>
<text transform="translate(774.4 1596.7) scale(1.1 1)" font-size="33" font-weight="bold" text-anchor="start" >b</text>
<text transform="translate(829.0 1111.5) scale(0.95 1)" font-size="67" font-weight="bold" text-anchor="start" >D</text>
<text transform="translate(933.0 1470.0) rotate(-90) scale(0.957 1)" font-size="65" font-weight="bold" text-anchor="middle" >AUC (mg/dL·120 min)</text>
<rect x="1175.2" y="1458.8" width="33.0" height="280.6" fill="#000" stroke="#000" stroke-width="7"/>
<line x1="1193.2" y1="1435.4" x2="1193.2" y2="1457.3" stroke="#000" stroke-width="6.3" stroke-linecap="butt"/>
<line x1="1175.7" y1="1435.4" x2="1210.7" y2="1435.4" stroke="#000" stroke-width="6.3" stroke-linecap="butt"/>
<rect x="1257.7" y="1281.6" width="31.2" height="457.8" fill="#fff" stroke="#000" stroke-width="7"/>
<line x1="1273.3" y1="1258.2" x2="1273.3" y2="1299.0" stroke="#000" stroke-width="6.3" stroke-linecap="butt"/>
<line x1="1256.2" y1="1299.0" x2="1290.4" y2="1299.0" stroke="#000" stroke-width="6.3" stroke-linecap="butt"/>
<line x1="1255.8" y1="1258.2" x2="1290.8" y2="1258.2" stroke="#000" stroke-width="6.3" stroke-linecap="butt"/>
<rect x="1336.8" y="1341.5" width="34.7" height="397.9" fill="#a8a8a8" stroke="#000" stroke-width="7"/>
<line x1="1354.7" y1="1318.0" x2="1354.7" y2="1362.4" stroke="#000" stroke-width="6.3" stroke-linecap="butt"/>
<line x1="1335.3" y1="1362.4" x2="1373.0" y2="1362.4" stroke="#000" stroke-width="6.3" stroke-linecap="butt"/>
<line x1="1337.2" y1="1318.0" x2="1372.2" y2="1318.0" stroke="#000" stroke-width="6.3" stroke-linecap="butt"/>
<rect x="1419.3" y="1372.0" width="30.3" height="367.4" fill="#5a5a5a" stroke="#000" stroke-width="7"/>
<line x1="1434.9" y1="1345.0" x2="1434.9" y2="1397.7" stroke="#000" stroke-width="6.3" stroke-linecap="butt"/>
<line x1="1417.8" y1="1397.7" x2="1451.1" y2="1397.7" stroke="#000" stroke-width="6.3" stroke-linecap="butt"/>
<line x1="1417.4" y1="1345.0" x2="1452.4" y2="1345.0" stroke="#000" stroke-width="6.3" stroke-linecap="butt"/>
<line x1="1152.8" y1="1181.2" x2="1152.8" y2="1742.7" stroke="#000" stroke-width="7.4" stroke-linecap="butt"/>
<line x1="1136.8" y1="1739.4" x2="1471.0" y2="1739.4" stroke="#000" stroke-width="6.5" stroke-linecap="butt"/>
<line x1="1136.8" y1="1649.3" x2="1152.8" y2="1649.3" stroke="#000" stroke-width="6.5" stroke-linecap="butt"/>
<line x1="1136.8" y1="1555.5" x2="1152.8" y2="1555.5" stroke="#000" stroke-width="6.5" stroke-linecap="butt"/>
<line x1="1136.8" y1="1462.8" x2="1152.8" y2="1462.8" stroke="#000" stroke-width="6.5" stroke-linecap="butt"/>
<line x1="1136.8" y1="1370.8" x2="1152.8" y2="1370.8" stroke="#000" stroke-width="6.5" stroke-linecap="butt"/>
<line x1="1136.8" y1="1276.8" x2="1152.8" y2="1276.8" stroke="#000" stroke-width="6.5" stroke-linecap="butt"/>
<line x1="1136.8" y1="1184.5" x2="1152.8" y2="1184.5" stroke="#000" stroke-width="6.5" stroke-linecap="butt"/>
<text transform="translate(1118.5 1760.0) scale(0.91 1)" font-size="53" font-weight="bold" text-anchor="end" stroke="#fff" stroke-width="0.6">0</text>
<text transform="translate(1118.5 1680.0) scale(0.91 1)" font-size="53" font-weight="bold" text-anchor="end" stroke="#fff" stroke-width="0.6">5000</text>
<text transform="translate(1118.5 1582.4) scale(0.91 1)" font-size="53" font-weight="bold" text-anchor="end" stroke="#fff" stroke-width="0.6">10,000</text>
<text transform="translate(1118.5 1488.7) scale(0.91 1)" font-size="53" font-weight="bold" text-anchor="end" stroke="#fff" stroke-width="0.6">15,000</text>
<text transform="translate(1118.5 1395.0) scale(0.91 1)" font-size="53" font-weight="bold" text-anchor="end" stroke="#fff" stroke-width="0.6">20,000</text>
<text transform="translate(1118.5 1300.0) scale(0.91 1)" font-size="53" font-weight="bold" text-anchor="end" stroke="#fff" stroke-width="0.6">25,000</text>
<text transform="translate(1118.5 1206.0) scale(0.91 1)" font-size="53" font-weight="bold" text-anchor="end" stroke="#fff" stroke-width="0.6">30,000</text>
<text transform="translate(1190.8 1409.3) scale(1.0 1)" font-size="54" font-weight="bold" text-anchor="middle" >c</text>
<text transform="translate(1275.0 1231.2) scale(1.0 1)" font-size="54" font-weight="bold" text-anchor="middle" >a</text>
<text transform="translate(1351.0 1279.9) scale(1.0 1)" font-size="54" font-weight="bold" text-anchor="middle" >b</text>
<text transform="translate(1437.5 1303.3) scale(1.0 1)" font-size="54" font-weight="bold" text-anchor="middle" >b</text>
<text transform="translate(1474.0 1111.5) scale(0.95 1)" font-size="67" font-weight="bold" text-anchor="start" >E</text>
<text transform="translate(1619.5 1413.0) rotate(-90) scale(0.957 1)" font-size="65" font-weight="bold" text-anchor="middle" >Serum HbA1c (ng/mL)</text>
<rect x="1788.3" y="1409.8" width="34.4" height="329.8" fill="#000" stroke="#000" stroke-width="7"/>
<line x1="1804.5" y1="1386.3" x2="1804.5" y2="1408.3" stroke="#000" stroke-width="6.3" stroke-linecap="butt"/>
<line x1="1787.0" y1="1386.3" x2="1822.0" y2="1386.3" stroke="#000" stroke-width="6.3" stroke-linecap="butt"/>
<rect x="1871.1" y="1240.4" width="35.4" height="499.2" fill="#fff" stroke="#000" stroke-width="7"/>
<line x1="1887.3" y1="1198.3" x2="1887.3" y2="1281.0" stroke="#000" stroke-width="6.3" stroke-linecap="butt"/>
<line x1="1869.6" y1="1281.0" x2="1908.0" y2="1281.0" stroke="#000" stroke-width="6.3" stroke-linecap="butt"/>
<line x1="1869.8" y1="1198.3" x2="1904.8" y2="1198.3" stroke="#000" stroke-width="6.3" stroke-linecap="butt"/>
<rect x="1953.8" y="1393.7" width="34.4" height="345.9" fill="#a8a8a8" stroke="#000" stroke-width="7"/>
<line x1="1972.5" y1="1348.1" x2="1972.5" y2="1443.0" stroke="#000" stroke-width="6.3" stroke-linecap="butt"/>
<line x1="1952.3" y1="1443.0" x2="1989.7" y2="1443.0" stroke="#000" stroke-width="6.3" stroke-linecap="butt"/>
<line x1="1955.0" y1="1348.1" x2="1990.0" y2="1348.1" stroke="#000" stroke-width="6.3" stroke-linecap="butt"/>
<rect x="2041.1" y="1451.1" width="33.3" height="288.5" fill="#5a5a5a" stroke="#000" stroke-width="7"/>
<line x1="2057.2" y1="1355.2" x2="2057.2" y2="1539.6" stroke="#000" stroke-width="6.3" stroke-linecap="butt"/>
<line x1="2039.6" y1="1539.6" x2="2075.9" y2="1539.6" stroke="#000" stroke-width="6.3" stroke-linecap="butt"/>
<line x1="2039.8" y1="1355.2" x2="2074.8" y2="1355.2" stroke="#000" stroke-width="6.3" stroke-linecap="butt"/>
<line x1="1762.8" y1="1181.2" x2="1762.8" y2="1742.8" stroke="#000" stroke-width="7.4" stroke-linecap="butt"/>
<line x1="1746.8" y1="1739.6" x2="2098.0" y2="1739.6" stroke="#000" stroke-width="6.5" stroke-linecap="butt"/>
<line x1="1746.8" y1="1628.6" x2="1762.8" y2="1628.6" stroke="#000" stroke-width="6.5" stroke-linecap="butt"/>
<line x1="1746.8" y1="1517.6" x2="1762.8" y2="1517.6" stroke="#000" stroke-width="6.5" stroke-linecap="butt"/>
<line x1="1746.8" y1="1406.5" x2="1762.8" y2="1406.5" stroke="#000" stroke-width="6.5" stroke-linecap="butt"/>
<line x1="1746.8" y1="1295.5" x2="1762.8" y2="1295.5" stroke="#000" stroke-width="6.5" stroke-linecap="butt"/>
<line x1="1746.8" y1="1184.5" x2="1762.8" y2="1184.5" stroke="#000" stroke-width="6.5" stroke-linecap="butt"/>
<text transform="translate(1712.0 1758.1) scale(0.93 1)" font-size="59" font-weight="bold" text-anchor="end" >0</text>
<text transform="translate(1712.0 1647.1) scale(0.93 1)" font-size="59" font-weight="bold" text-anchor="end" >5</text>
<text transform="translate(1712.0 1536.1) scale(0.93 1)" font-size="59" font-weight="bold" text-anchor="end" >10</text>
<text transform="translate(1712.0 1425.0) scale(0.93 1)" font-size="59" font-weight="bold" text-anchor="end" >15</text>
<text transform="translate(1712.0 1314.0) scale(0.93 1)" font-size="59" font-weight="bold" text-anchor="end" >20</text>
<text transform="translate(1712.0 1203.0) scale(0.93 1)" font-size="59" font-weight="bold" text-anchor="end" >25</text>
<text transform="translate(1802.5 1347.7) scale(1.0 1)" font-size="53" font-weight="bold" text-anchor="middle" >b</text>
<text transform="translate(1886.0 1185.6) scale(1.0 1)" font-size="53" font-weight="bold" text-anchor="middle" >a</text>
<text transform="translate(1975.0 1336.2) scale(1.0 1)" font-size="53" font-weight="bold" text-anchor="middle" >b</text>
<text transform="translate(2061.8 1336.2) scale(1.0 1)" font-size="53" font-weight="bold" text-anchor="middle" >b</text>
</g>
</svg>
</body>
</html>
